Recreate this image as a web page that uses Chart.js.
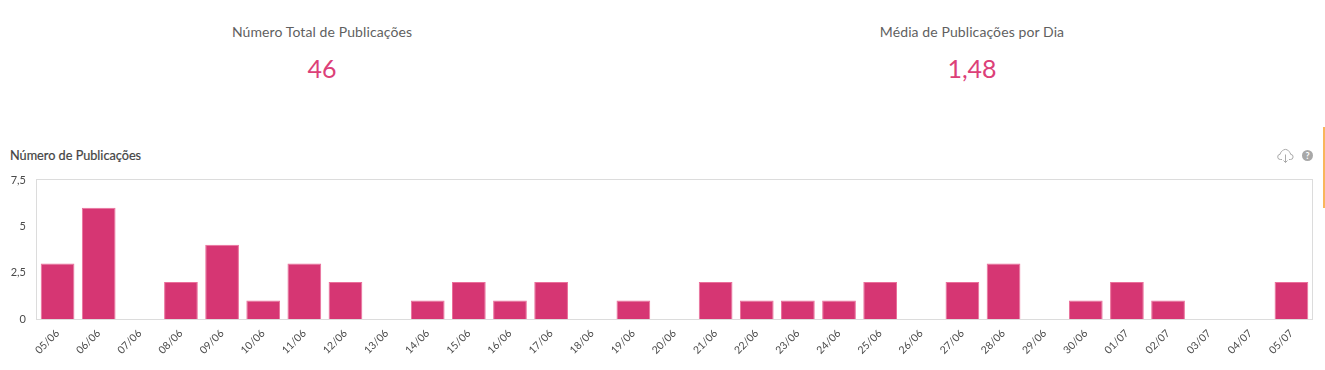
<!DOCTYPE html>
<html lang="pt">
<head>
<meta charset="utf-8">
<title>Número de Publicações</title>
<script src="https://cdn.jsdelivr.net/npm/chart.js@4/dist/chart.umd.min.js"></script>
<style>
    html, body { margin: 0; padding: 0; background: #fff; overflow: hidden; }
    body { width: 1325px; height: 370px; position: relative; font-family: Lato, sans-serif; }
    .stat { position: absolute; top: 23px; width: 400px; text-align: center; }
    .stat .name { font-size: 14px; line-height: 18px; color: #5f5f5f; letter-spacing: 0.1px; }
    .stat .value { font-size: 25px; line-height: 30px; margin-top: 12px; color: #dc4078; }
    #stat-total { left: 122px; }
    #stat-avg { left: 772px; }
    #chart-title { position: absolute; left: 10px; top: 147px; font-size: 12.7px; line-height: 17px; color: #444; -webkit-text-stroke: 0.2px #444; }
    #chart-wrap { position: absolute; left: 0; top: 0; width: 1325px; height: 370px; }
    #icon-cloud { position: absolute; left: 1277px; top: 147px; }
    #icon-help { position: absolute; left: 1302px; top: 150px; width: 11px; height: 11px; border-radius: 50%; background: #a8a8a8; color: #fff; font-size: 9px; line-height: 11px; font-weight: 700; text-align: center; }
    #scroll-mark { position: absolute; left: 1323px; top: 127px; width: 2px; height: 81px; background: #f9b65c; }
</style>
</head>
<body>
<div class="stat" id="stat-total"><div class="name">Número Total de Publicações</div><div class="value">46</div></div>
<div class="stat" id="stat-avg"><div class="name">Média de Publicações por Dia</div><div class="value">1,48</div></div>
<div id="chart-title">Número de Publicações</div>
<svg id="icon-cloud" width="17" height="18" viewBox="0 0 17 18" fill="none" stroke="#aaa" stroke-width="1">
    <path d="M5 12.5H3.5a2.6 2.6 0 0 1-.4-5.2 3.4 3.4 0 0 1 1.9-3A4 4 0 0 1 12 4.6a3 3 0 0 1 1.6 2.7 2.6 2.6 0 0 1-.2 5.2H12"/>
    <path d="M8.5 7.5v8M6.5 13.5l2 2 2-2"/>
</svg>
<div id="icon-help">?</div>
<div id="scroll-mark"></div>
<div id="chart-wrap"><canvas id="chart-pubs" width="1325" height="370"></canvas></div>
<script>
'use strict';
Chart.defaults.font.family = "Lato, sans-serif";
Chart.defaults.color = '#555';

const PINK = '#d63673';
const PINK_EDGE = '#ea6f9a';
const GRID = '#dcdcdc';

const days = [
    '05/06', '06/06', '07/06', '08/06', '09/06', '10/06', '11/06', '12/06',
    '13/06', '14/06', '15/06', '16/06', '17/06', '18/06', '19/06', '20/06',
    '21/06', '22/06', '23/06', '24/06', '25/06', '26/06', '27/06', '28/06',
    '29/06', '30/06', '01/07', '02/07', '03/07', '04/07', '05/07'
];
const publications = [
    3, 6, 0, 2, 4, 1, 3, 2,
    0, 1, 2, 1, 2, 0, 1, 0,
    2, 1, 1, 1, 2, 0, 2, 3,
    0, 1, 2, 1, 0, 0, 2
];
const yTicks = [0, 2.5, 5, 7.5];

// border around the plot area, on top of the bars' base
const plotBox = {
    id: 'plotBox',
    afterDatasetsDraw(chart) {
        const { ctx, chartArea: a } = chart;
        ctx.save();
        ctx.strokeStyle = GRID;
        ctx.lineWidth = 1;
        ctx.strokeRect(a.left - 0.5, a.top - 0.5, a.right - a.left + 1, a.bottom - a.top + 1);
        ctx.restore();
    }
};

new Chart(document.getElementById('chart-pubs'), {
    type: 'bar',
    data: {
        labels: days,
        datasets: [{
            label: 'Número de Publicações',
            data: publications,
            backgroundColor: PINK,
            borderColor: PINK_EDGE,
            borderWidth: 1,
            barPercentage: 0.82,
            categoryPercentage: 1,
        }]
    },
    options: {
        animation: false,
        responsive: false,
        layout: { padding: { left: 0, top: 180, right: 13, bottom: 0 } },
        plugins: { legend: { display: false }, tooltip: { enabled: false } },
        scales: {
            x: {
                grid: { display: false },
                border: { display: false },
                afterFit(scale) { scale.height = 51; },
                ticks: {
                    autoSkip: false,
                    minRotation: 45,
                    maxRotation: 45,
                    padding: 0,
                    color: '#4a4a4a',
                    font: { size: 10.5 },
                }
            },
            y: {
                min: 0,
                max: 7.5,
                grid: { display: false },
                border: { display: false },
                afterFit(scale) { scale.width = 37; },
                afterBuildTicks(scale) { scale.ticks = yTicks.map(v => ({ value: v })); },
                ticks: {
                    padding: 3,
                    color: '#4a4a4a',
                    font: { size: 11 },
                    callback: v => String(v).replace('.', ','),
                }
            }
        }
    },
    plugins: [plotBox]
});
</script>
</body>
</html>
